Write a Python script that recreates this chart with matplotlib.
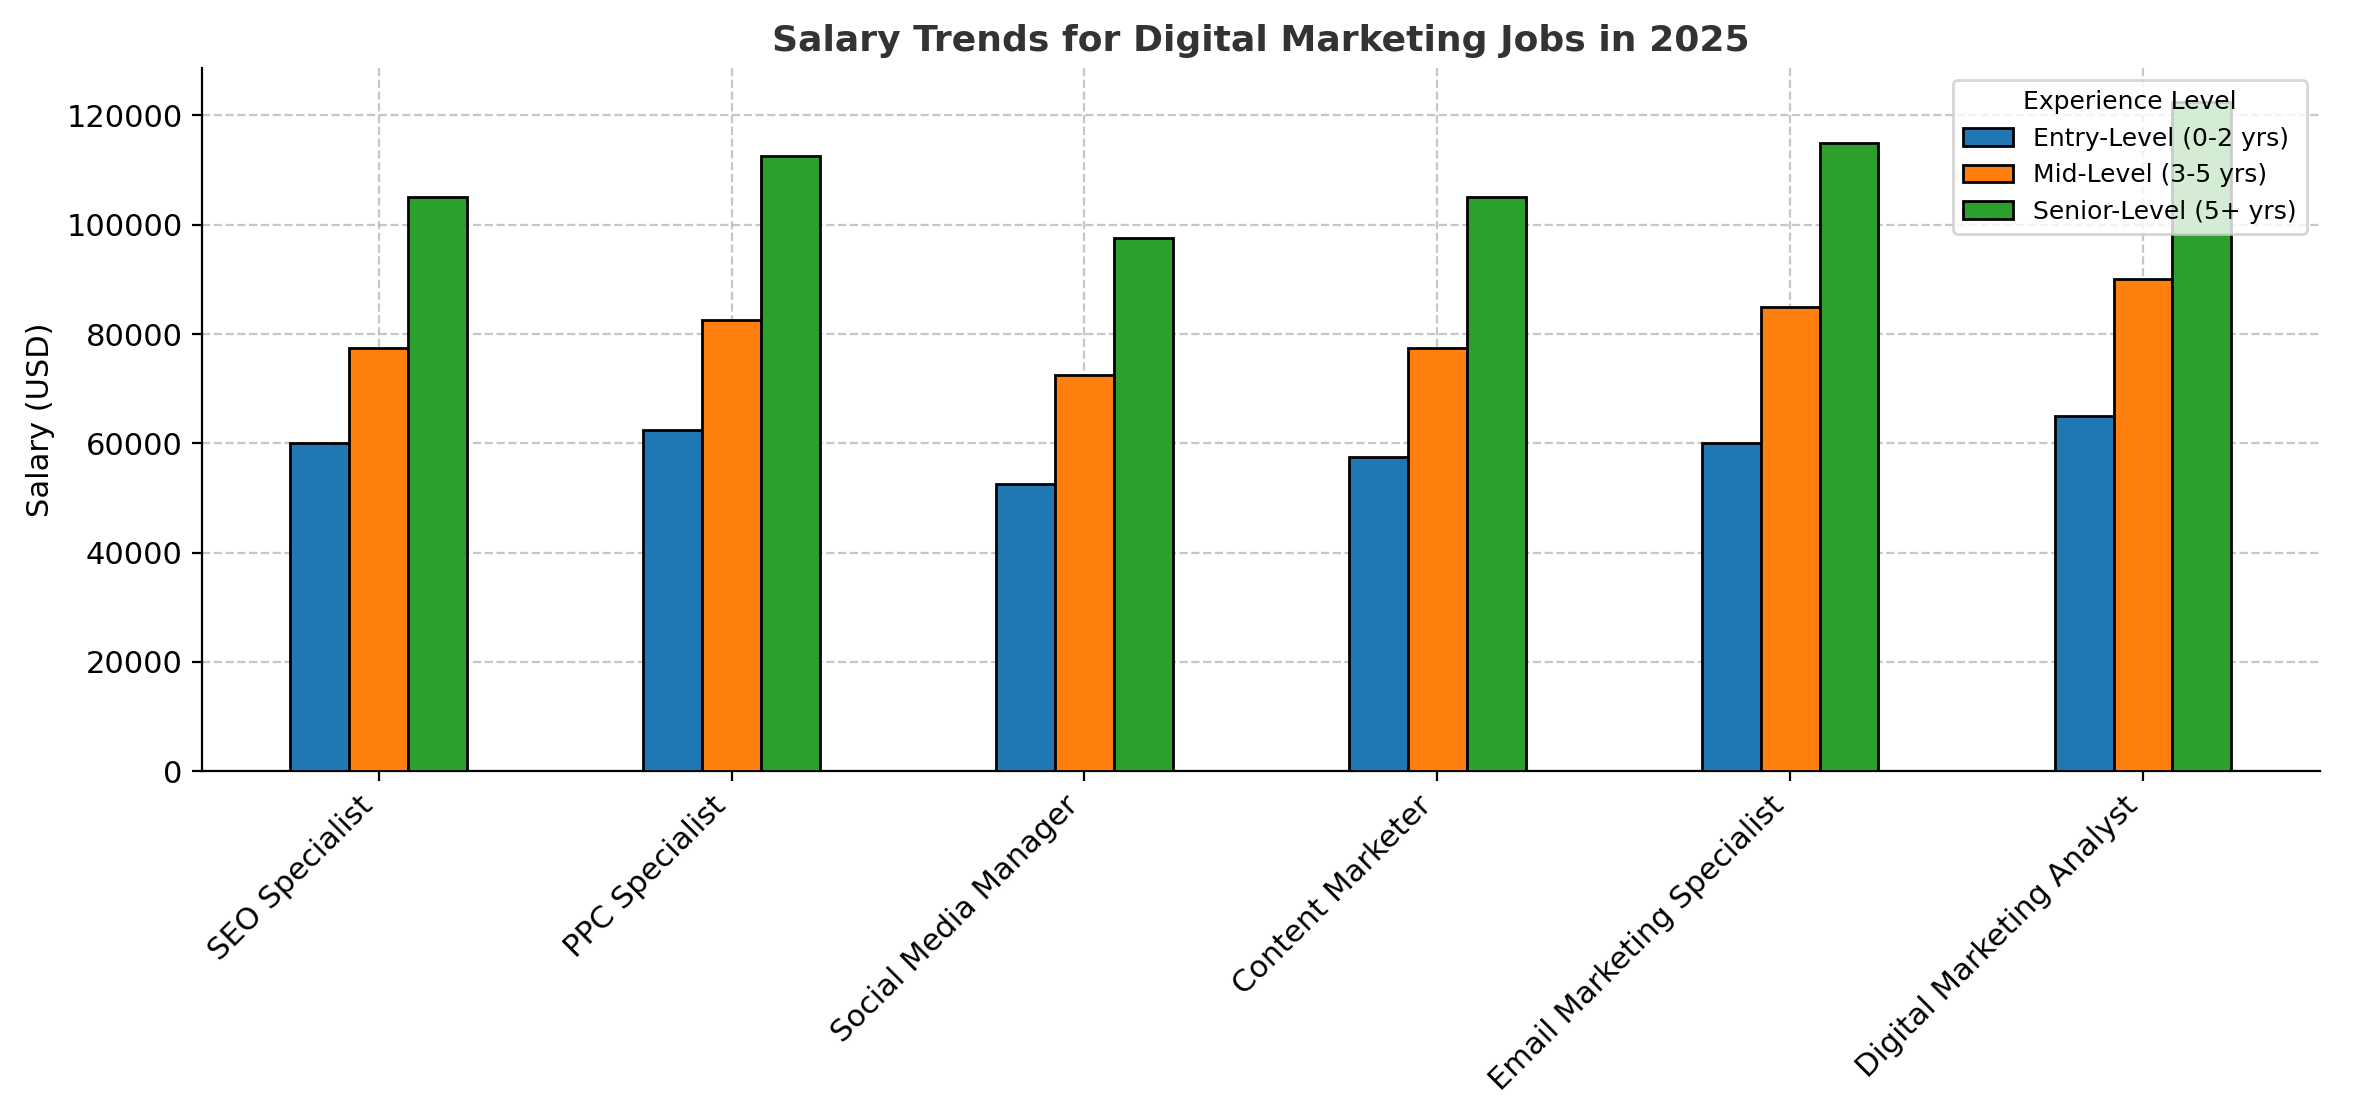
import matplotlib
matplotlib.use("Agg")
import matplotlib.pyplot as plt
import numpy as np

jobs = ["SEO Specialist", "PPC Specialist", "Social Media Manager", "Content Marketer",
        "Email Marketing Specialist", "Digital Marketing Analyst"]
entry = [60000, 62500, 52500, 57500, 60000, 65000]
mid = [77500, 82500, 72500, 77500, 85000, 90000]
senior = [105000, 112500, 97500, 105000, 115000, 122500]
labels = ["Entry-Level (0-2 yrs)", "Mid-Level (3-5 yrs)", "Senior-Level (5+ yrs)"]
colors = ["#1f77b4", "#ff7f0e", "#2ca02c"]

fig = plt.figure(figsize=(11.895, 5.565), dpi=200)
ax = fig.add_axes([0.085, 0.307, 0.89, 0.632])
x = np.arange(len(jobs))
w = 0.5 / 3
for i, (vals, lab, c) in enumerate(zip([entry, mid, senior], labels, colors)):
    ax.bar(x + (i - 1) * w, vals, w, label=lab, color=c, edgecolor="black", linewidth=1, zorder=3)

ax.set_xlim(-0.5, len(jobs) - 0.5)
ax.set_ylim(0, 128700)
ax.set_xticks(x)
ax.set_xticklabels(jobs, rotation=45, ha="right", fontsize=11)
ax.tick_params(axis="y", labelsize=11)
ax.set_ylabel("Salary (USD)", fontsize=11)
ax.set_title("Salary Trends for Digital Marketing Jobs in 2025", fontsize=13, fontweight="bold", color="#333333")
ax.grid(True, linestyle="--", alpha=0.7, zorder=0)
ax.set_axisbelow(True)
for s in ["top", "right"]:
    ax.spines[s].set_visible(False)
ax.legend(title="Experience Level", loc="upper right", fontsize=9, title_fontsize=9)
fig.savefig("out.png", dpi=200)
